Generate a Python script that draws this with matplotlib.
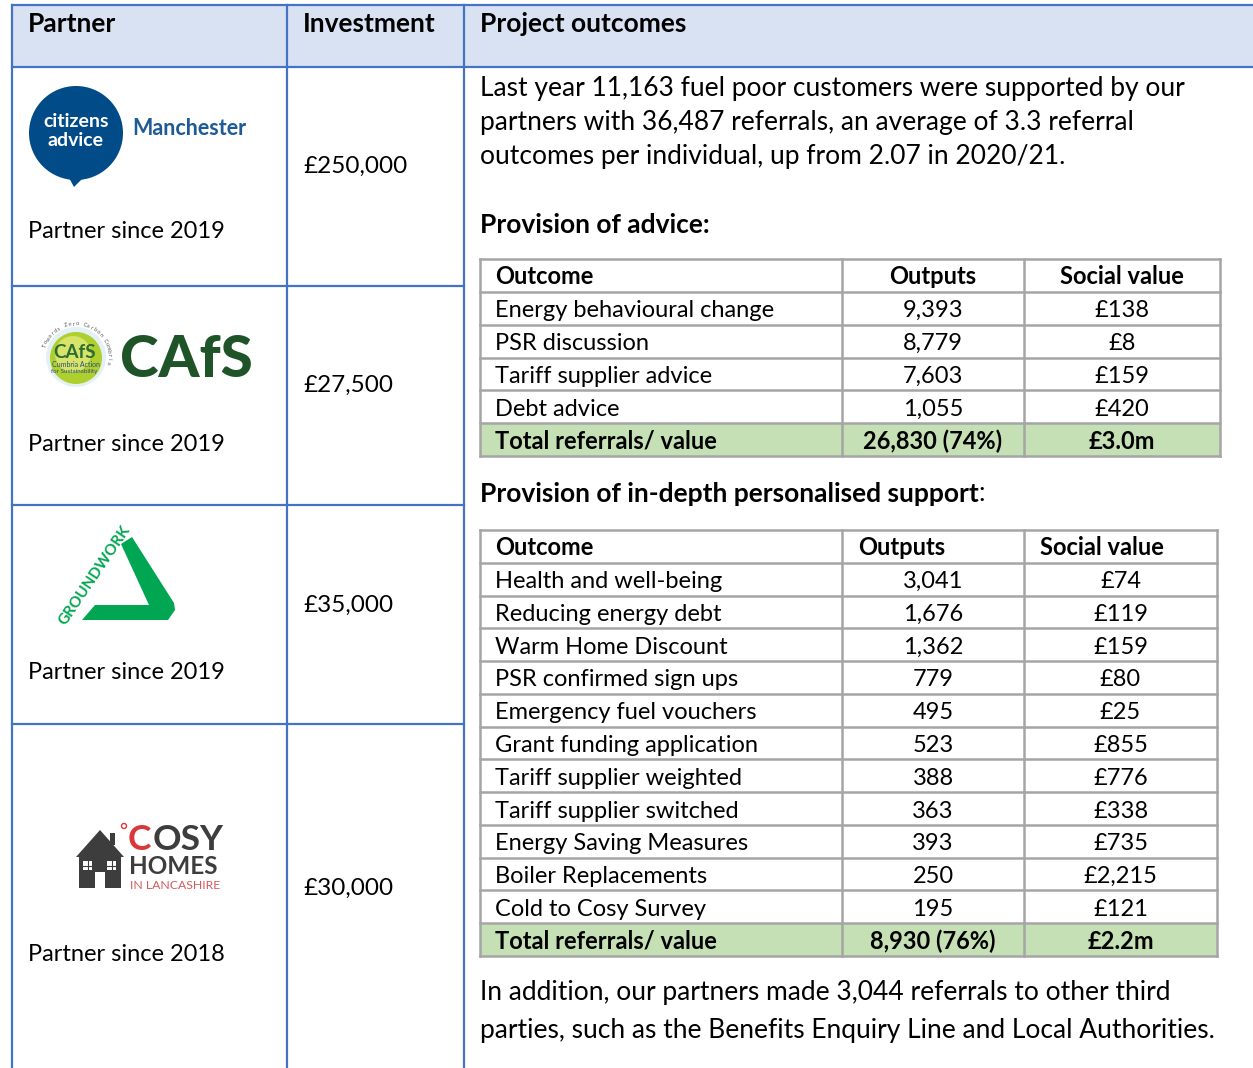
import numpy as np
import matplotlib.pyplot as plt
from matplotlib.patches import Rectangle, Circle, Polygon

plt.rcParams['font.family'] = ['Lato', 'DejaVu Sans']

# ---- table content ----
col_headers = ["Partner", "Investment", "Project outcomes"]
investments = ["£250,000", "£27,500", "£35,000", "£30,000"]
partner_since = [2019, 2019, 2019, 2018]

intro = ["Last year 11,163 fuel poor customers were supported by our",
         "partners with 36,487 referrals, an average of 3.3 referral",
         "outcomes per individual, up from 2.07 in 2020/21."]
table_cols = ["Outcome", "Outputs", "Social value"]

advice_outcomes = ["Energy behavioural change", "PSR discussion",
                   "Tariff supplier advice", "Debt advice"]
advice_outputs = [9393, 8779, 7603, 1055]
advice_value = [138, 8, 159, 420]
advice_total = ["Total referrals/ value", "26,830 (74%)", "£3.0m"]

support_outcomes = ["Health and well-being", "Reducing energy debt", "Warm Home Discount",
                    "PSR confirmed sign ups", "Emergency fuel vouchers",
                    "Grant funding application", "Tariff supplier weighted",
                    "Tariff supplier switched", "Energy Saving Measures",
                    "Boiler Replacements", "Cold to Cosy Survey"]
support_outputs = [3041, 1676, 1362, 779, 495, 523, 388, 363, 393, 250, 195]
support_value = [74, 119, 159, 80, 25, 855, 776, 338, 735, 2215, 121]
support_total = ["Total referrals/ value", "8,930 (76%)", "£2.2m"]

footer = ["In addition, our partners made 3,044 referrals to other third",
          "parties, such as the Benefits Enquiry Line and Local Authorities."]

W, H = 1253, 1068
BLUE = '#4472C4'
GRID = '#A5A5A5'
FS = 17      # table cells
FS_BIG = 19  # paragraphs and headings

fig = plt.figure(figsize=(W / 100, H / 100), dpi=100)
ax = fig.add_axes([0, 0, 1, 1])
ax.set_xlim(0, W)
ax.set_ylim(H, 0)
ax.axis('off')

# outer table (pixel coordinates, y down)
ax.add_patch(Rectangle((12, 5), W - 12, 62, fc='#D9E2F3', ec='none'))
for y in (5, 67):
    ax.plot([12, W], [y, y], color=BLUE, lw=1.6)
for x in (12, 287, 464):
    ax.plot([x, x], [5, H], color=BLUE, lw=1.6)
for y in (286, 505, 724):
    ax.plot([12, 464], [y, y], color=BLUE, lw=1.6)

for x, s in zip((28, 303, 480), col_headers):
    ax.text(x, 32, s, fontsize=FS_BIG, fontweight='bold', va='baseline')

since_y = [238, 451, 679, 961]
inv_y = [173, 392, 612, 895]
for yr, yb in zip(partner_since, since_y):
    ax.text(28, yb, f"Partner since {yr}", fontsize=FS, va='baseline')
for s, yb in zip(investments, inv_y):
    ax.text(303, yb, s, fontsize=17.5, va='baseline')

# ---- logos ----
# citizens advice
ax.add_patch(Circle((76, 133), 47, fc='#004B88', ec='none'))
ax.add_patch(Polygon([(68, 176), (84, 177), (74, 187)], fc='#004B88', ec='none'))
ax.text(76, 127, "citizens", color='white', fontsize=14, fontweight='bold',
        ha='center', va='baseline')
ax.text(76, 146, "advice", color='white', fontsize=14, fontweight='bold',
        ha='center', va='baseline')
ax.text(132, 135, "Manchester", color='#1D5A96', fontsize=15.5, fontweight='bold',
        va='baseline')

# CAfS
cx, cy = 76, 357
ax.add_patch(Circle((cx, cy), 30, fc='#E3F1F6', ec='none'))
ax.add_patch(Circle((cx, cy + 1), 26, fc='#AFCF2E', ec='none'))
ax.add_patch(Circle((cx - 3, cy - 3), 18, fc='#D6E46A', ec='none'))
ax.text(cx - 2, 358, "CAfS", color='#2E6B34', fontsize=13.5, fontweight='bold',
        ha='center', va='baseline')
ax.text(cx, 367, "Cumbria Action", color='#2B4C7E', fontsize=5, ha='center', va='baseline')
ax.text(cx - 2, 373, "for Sustainability", color='#2B4C7E', fontsize=4.5, ha='center',
        va='baseline')
arc = "Towards Zero Carbon Cumbria"
for i, ch in enumerate(arc):
    a = np.deg2rad(160 - i * 170 / (len(arc) - 1))
    ax.text(cx + 33 * np.cos(a), cy - 33 * np.sin(a), ch, fontsize=4, color='#555555',
            rotation=np.rad2deg(a) - 90, ha='center', va='center')
ax.text(120, 377, "CAfS", color='#1F5428', fontsize=42, fontweight='black', va='baseline')

# Groundwork
GREEN = '#00A651'
ax.add_patch(Polygon([(121, 544), (132, 537), (174, 603), (175, 610), (168, 620),
                      (82, 620), (95, 605), (149, 605)], fc=GREEN, ec='none'))
ax.text(95, 575, "GROUNDWORK", color=GREEN, fontsize=11, fontweight='bold',
        rotation=56, rotation_mode='anchor', ha='center', va='center')

# Cosy Homes
GREY = '#3D3D3D'
ax.add_patch(Polygon([(76, 857), (100, 830), (124, 857)], fc=GREY, ec='none'))
ax.add_patch(Rectangle((110, 833), 5, 12, fc=GREY, ec='none'))
ax.add_patch(Rectangle((79, 855), 42, 33, fc=GREY, ec='none'))
ax.add_patch(Rectangle((95, 872), 10, 16, fc='white', ec='none'))
for wx in (83, 107):
    ax.add_patch(Rectangle((wx, 861), 9, 9, fc='white', ec='none'))
    ax.plot([wx + 4.5, wx + 4.5], [861, 870], color=GREY, lw=0.8)
    ax.plot([wx, wx + 9], [865.5, 865.5], color=GREY, lw=0.8)
ax.add_patch(Circle((124, 826), 2.5, fc='none', ec='#D9383A', lw=1))
ax.text(128, 850, "C", color='#D9383A', fontsize=25.5, fontweight='bold', va='baseline')
ax.text(153, 850, "OSY", color=GREY, fontsize=25.5, fontweight='bold', va='baseline')
ax.text(129, 874, "HOMES", color=GREY, fontsize=17.5, fontweight='bold', va='baseline')
ax.text(130, 889, "IN LANCASHIRE", color='#D65A5A', fontsize=8.8, va='baseline')

# ---- right column ----
for i, s in enumerate(intro):
    ax.text(480, 96 + 34 * i, s, fontsize=FS_BIG, va='baseline')
ax.text(480, 233, "Provision of advice:", fontsize=FS_BIG, fontweight='bold', va='baseline')
t = ax.text(480, 502, "Provision of in-depth personalised support", fontsize=FS_BIG,
            fontweight='bold', va='baseline')
ax.annotate(":", xycoords=t, xy=(1, 0), va='bottom', fontsize=FS_BIG)


def draw_table(top, bottom, right, outcomes, outputs, values, total, left_hdr):
    rows = [table_cols] + [[o, f"{a:,}", f"£{v:,}"]
                           for o, a, v in zip(outcomes, outputs, values)] + [total]
    edges = np.linspace(top, bottom, len(rows) + 1)
    xs = [480, 842, 1024, right]
    ax.add_patch(Rectangle((xs[0], edges[-2]), right - xs[0], edges[-1] - edges[-2],
                           fc='#C5E0B4', ec='none'))
    for y in edges:
        ax.plot([xs[0], right], [y, y], color=GRID, lw=1.8)
    for x in xs:
        ax.plot([x, x], [top, bottom], color=GRID, lw=1.8)
    for i, row in enumerate(rows):
        yb = (edges[i] + edges[i + 1]) / 2 + 9
        bold = 'bold' if i in (0, len(rows) - 1) else 'normal'
        ax.text(495, yb, row[0], fontsize=FS, fontweight=bold, va='baseline')
        if i == 0 and left_hdr:
            ax.text(858, yb, row[1], fontsize=FS, fontweight=bold, va='baseline')
            ax.text(1040, yb, row[2], fontsize=FS, fontweight=bold, va='baseline')
        else:
            ax.text(933, yb, row[1], fontsize=FS, fontweight=bold, ha='center', va='baseline')
            ax.text((1024 + right) / 2, yb, row[2], fontsize=FS, fontweight=bold,
                    ha='center', va='baseline')


draw_table(259, 456, 1220, advice_outcomes, advice_outputs, advice_value, advice_total, False)
draw_table(530, 956, 1217, support_outcomes, support_outputs, support_value, support_total, True)

for i, s in enumerate(footer):
    ax.text(480, 1000 + 38 * i, s, fontsize=FS_BIG, va='baseline')

fig.savefig('out.png', dpi=100)
